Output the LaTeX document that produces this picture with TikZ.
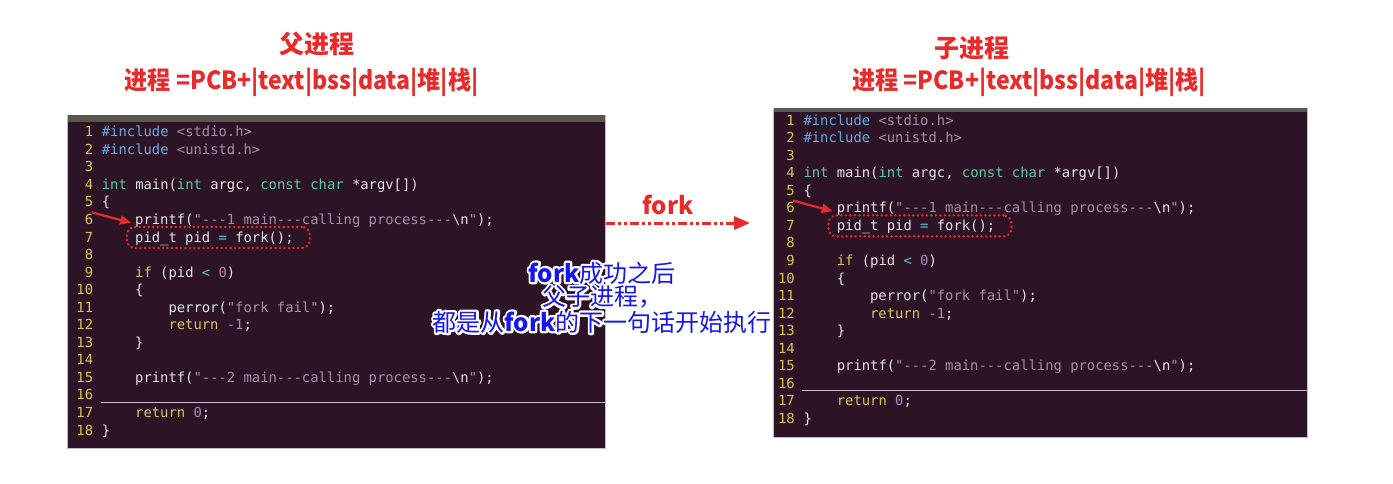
\documentclass[tikz,border=0pt]{standalone}
\usepackage{fontspec}
\usepackage{graphicx}
\setmonofont{DejaVu Sans Mono}
\newfontfamily\cjk{Noto Sans CJK SC}
\usetikzlibrary{arrows.meta}
\definecolor{panelbg}{RGB}{44,20,38}
\definecolor{stripc}{RGB}{88,86,78}
\definecolor{edgec}{RGB}{200,185,200}
\definecolor{cnumc}{RGB}{222,196,80}
\definecolor{cwhite}{RGB}{228,228,228}
\definecolor{cinc}{RGB}{100,170,222}
\definecolor{cstr}{RGB}{168,138,168}
\definecolor{ctype}{RGB}{95,200,160}
\definecolor{ckey}{RGB}{216,196,90}
\definecolor{cnumv}{RGB}{175,135,195}
\definecolor{cop}{RGB}{90,195,210}
\definecolor{tred}{RGB}{232,42,42}
\definecolor{tblue}{RGB}{22,22,238}
\newcommand\kInc[1]{\textcolor{cinc}{#1}}
\newcommand\kStr[1]{\textcolor{cstr}{#1}}
\newcommand\kTyp[1]{\textcolor{ctype}{#1}}
\newcommand\kKey[1]{\textcolor{ckey}{#1}}
\newcommand\kNum[1]{\textcolor{cnumv}{#1}}
\newcommand\kOp[1]{\textcolor{cop}{#1}}
\newcommand\codef{\ttfamily\fontsize{13.85}{16}\selectfont\frenchspacing}
\newcommand\halo[1]{\makebox[0pt][l]{\color{white}\special{pdf:literal direct 1 Tr 4.5 w 1 J 1 j}#1\special{pdf:literal direct 0 Tr}}#1}
\tikzset{
  panel/.style={fill=panelbg, draw=edgec, line width=0.8pt, inner sep=0pt},
  strip/.style={fill=stripc, inner sep=0pt, draw=none},
  lnum/.style={anchor=base east, inner sep=0pt, font=\codef, text=cnumc},
  codeln/.style={anchor=base west, inner sep=0pt, font=\codef, text=cwhite},
  uline/.style={draw=edgec, line width=1.2pt},
  fbox/.style={draw=tred, line width=2.6pt, dash pattern=on 0.2pt off 4.3pt, line cap=round, rounded corners=8pt, inner sep=0pt, minimum width=183pt, minimum height=21pt},
  redarrow/.style={draw=tred, line width=2.2pt, -{Triangle[length=11pt,width=9pt]}},
  forkarrow/.style={draw=tred, line width=3pt, dash pattern=on 9pt off 3pt on 3pt off 3pt on 3pt off 3pt, -{Triangle[length=16pt,width=13pt]}},
  title/.style={inner sep=0pt, text=tred, font=\cjk\bfseries\fontsize{25}{30}\selectfont},
  note/.style={inner sep=0pt, text=tblue, font=\cjk\fontsize{24}{28}\selectfont},
}
\newcommand\panelcode[1]{%
  \foreach \k in {1,...,18}{\node[lnum] (#1n\k) at (-8.33,{(\k-1)*17.55+4.6}) {\k};}
  \node[codeln] (#1c1) at (0,4.6) {\kInc{\#include} \kStr{<stdio.h>}};
  \node[codeln] (#1c2) at (0,22.15) {\kInc{\#include} \kStr{<unistd.h>}};
  \node[codeln] (#1c4) at (0,57.25) {\kTyp{int} main(\kTyp{int} argc, \kTyp{const} \kTyp{char} *argv[])};
  \node[codeln] (#1c5) at (0,74.8) {\{};
  \node[codeln] (#1c6) at (33.32,92.35) {printf(\kStr{"---1 main---calling process---}\textbackslash n\kStr{"});};
  \node[codeln] (#1c7) at (33.32,109.9) {pid\_t pid \kOp{=} fork();};
  \node[codeln] (#1c9) at (33.32,145.0) {\kKey{if} (pid \kOp{<} \kNum{0})};
  \node[codeln] (#1c10) at (33.32,162.55) {\{};
  \node[codeln] (#1c11) at (66.64,180.1) {perror(\kStr{"fork fail"});};
  \node[codeln] (#1c12) at (66.64,197.65) {\kKey{return} \kNum{-1};};
  \node[codeln] (#1c13) at (33.32,215.2) {\}};
  \node[codeln] (#1c15) at (33.32,250.3) {printf(\kStr{"---2 main---calling process---}\textbackslash n\kStr{"});};
  \node[codeln] (#1c17) at (33.32,285.4) {\kKey{return} \kNum{0};};
  \node[codeln] (#1c18) at (0,302.95) {\}};
  \coordinate (#1ulS) at (-1,270.2);
  \coordinate (#1ulE) at (503.5,270.2);
  \draw[uline] (#1ulS) -- (#1ulE);
  \node[fbox] (#1box) at (116.7,105.4) {};
  \coordinate (#1aS) at (-10,80.2);
  \coordinate (#1aE) at (29.5,90.7);
  \draw[redarrow] (#1aS) -- (#1aE);
}
\begin{document}
\begin{tikzpicture}[x=1pt,y=-1pt]
\useasboundingbox[fill=white] (0,0) rectangle (1393,484);
% panels
\node[panel, minimum width=538pt, minimum height=333pt] (lp) at (336,281.5) {};
\node[strip, minimum width=537pt, minimum height=7.5pt] (ls) at (336,118.75) {};
\node[panel, minimum width=534pt, minimum height=329pt] (rp) at (1040,272.5) {};
\node[strip, minimum width=533pt, minimum height=3.5pt] (rs) at (1040,110) {};
\begin{scope}[shift={(101.7,132.1)}]
  \panelcode{L}
\end{scope}
\begin{scope}[shift={(803.3,120.5)}]
  \panelcode{R}
\end{scope}
% titles
\node[title] (t1) at (317,44.5) {父进程};
\node[title] (t2) at (301.5,82.5) {\scalebox{0.924}[1]{进程 =PCB+|text|bss|data|堆|栈|}};
\node[title] (t3) at (972,48) {子进程};
\node[title] (t4) at (1029,82.5) {\scalebox{0.924}[1]{进程 =PCB+|text|bss|data|堆|栈|}};
% fork arrow
\coordinate (forkS) at (606,223);
\coordinate (forkE) at (750,223);
\draw[forkarrow] (forkS) -- (forkE);
\node[title, font=\cjk\bfseries\fontsize{24}{28}\selectfont] (fk) at (668,205) {fork};
% note
\node[note] (m1) at (602,273) {\halo{{\bfseries fork}成功之后}};
\node[note] (m2) at (602,297) {\halo{父子进程，}};
\node[note] (m3) at (602,322) {\halo{都是从{\bfseries fork}的下一句话开始执行}};
\end{tikzpicture}
\end{document}
